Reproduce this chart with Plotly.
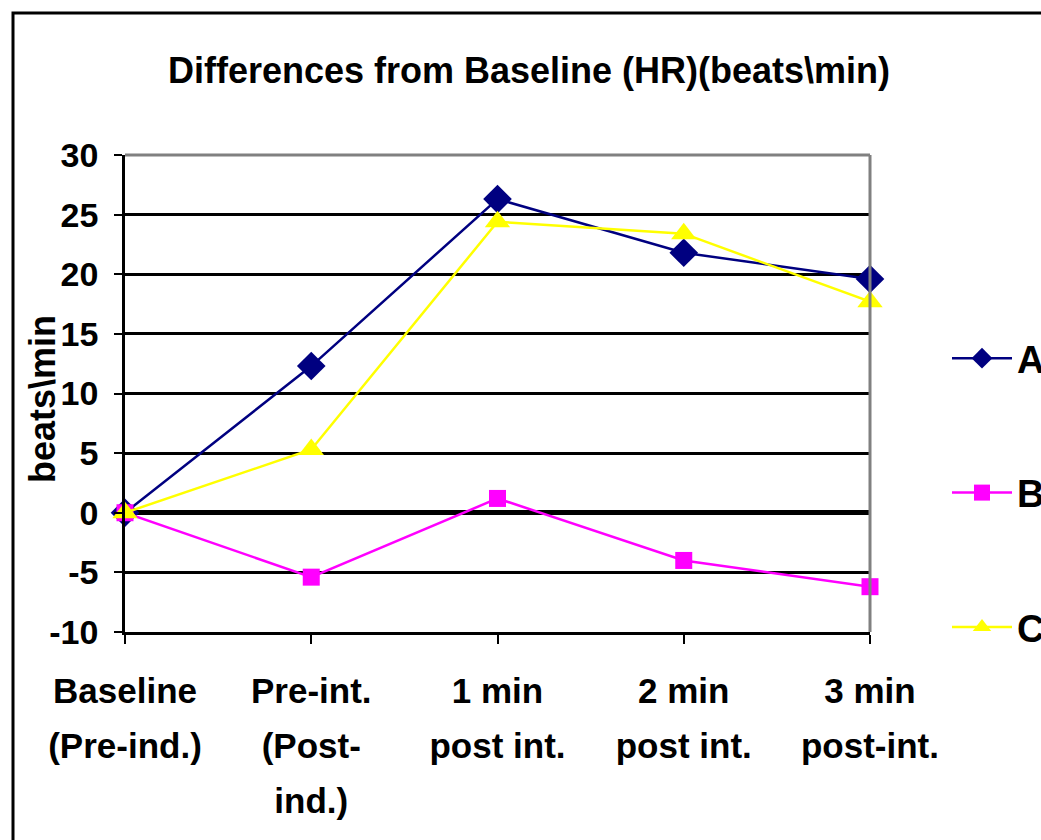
import plotly.graph_objects as go

categories = ["Baseline<br>(Pre-ind.)", "Pre-int.<br>(Post-<br>ind.)", "1 min<br>post int.",
              "2 min<br>post int.", "3 min<br>post-int."]
series_a = [0, 12.3, 26.3, 21.8, 19.6]
series_b = [0, -5.4, 1.2, -4.0, -6.2]
series_c = [0, 5.3, 24.4, 23.4, 17.7]
names = ["A", "B", "C"]
y_ticks = [-10, -5, 0, 5, 10, 15, 20, 25, 30]

FONT = "Liberation Sans, Arial, sans-serif"
W, H = 1041, 840
L, R, T, B = 125, 870, 155, 632

fig = go.Figure()
styles = [
    dict(color="#000080", symbol="diamond", size=22),
    dict(color="#FF00FF", symbol="square", size=17),
    dict(color="#FFFF00", symbol="triangle-up", size=22),
]
xs = list(range(len(categories)))
for i, (name, ys, st) in enumerate(zip(names, [series_a, series_b, series_c], styles)):
    fig.add_trace(go.Scatter(
        x=xs, y=ys, name="<b>%s</b>" % name, mode="lines+markers",
        line=dict(color=st["color"], width=2.5),
        marker=dict(color=st["color"], symbol=st["symbol"], size=st["size"], line=dict(width=0)),
        legendgroup=name, cliponaxis=False,
    ))


def px_x(px):
    return (px - L) / (R - L)


def px_y(py):
    return (B - py) / (B - T)


def xlabel(c):
    return "<br>".join('<span style="font-size:35px"><b>%s</b></span>' % part
                       for part in c.split("<br>"))


fig.update_layout(
    width=W, height=H,
    margin=dict(l=L, r=W - R, t=T, b=H - B, autoexpand=False),
    paper_bgcolor="white", plot_bgcolor="white",
    font=dict(family=FONT, size=33, color="black"),
    title=dict(text="<b>Differences from Baseline (HR)(beats\\min)</b>",
               x=529 / W, xanchor="center", xref="container",
               y=1 - 70 / H, yanchor="middle", yref="container",
               font=dict(size=36, family=FONT)),
    showlegend=True,
    legend=dict(x=px_x(947), xanchor="left", y=px_y(327), yanchor="top",
                font=dict(size=38, family=FONT), tracegroupgap=82,
                bgcolor="rgba(0,0,0,0)", itemwidth=60),
    xaxis=dict(
        tickmode="array", tickvals=xs,
        ticktext=[xlabel(c) for c in categories],
        range=[0, len(categories) - 1],
        showgrid=False, zeroline=False,
        showline=True, linecolor="black", linewidth=3,
        ticks="outside", ticklen=9, tickwidth=2, tickcolor="black",
        tickfont=dict(size=42, family=FONT),
        ticklabelstandoff=9,
    ),
    yaxis=dict(
        range=[-10, 30], tickmode="array", tickvals=y_ticks,
        ticktext=["<b>%d</b>" % v for v in y_ticks],
        showgrid=True, gridcolor="black", gridwidth=2.5,
        zeroline=True, zerolinecolor="black", zerolinewidth=5,
        showline=True, linecolor="black", linewidth=2.5,
        ticks="outside", ticklen=8, tickwidth=2, tickcolor="black",
        tickfont=dict(size=34, family=FONT),
        ticklabelstandoff=9,
    ),
    annotations=[dict(
        text="<b>beats\\min</b>", textangle=-90, showarrow=False,
        xref="paper", yref="paper", x=px_x(42), y=px_y(399),
        xanchor="center", yanchor="middle", font=dict(size=36, family=FONT),
    )],
    shapes=[
        dict(type="line", xref="paper", yref="paper", x0=0, x1=1, y0=1, y1=1,
             line=dict(color="#808080", width=3)),
        dict(type="line", xref="paper", yref="paper", x0=1, x1=1, y0=0, y1=1,
             line=dict(color="#808080", width=3)),
        dict(type="rect", xref="paper", yref="paper",
             x0=px_x(13), x1=px_x(1100), y0=px_y(13), y1=px_y(900),
             line=dict(color="black", width=3), fillcolor="rgba(0,0,0,0)", layer="below"),
    ],
)

fig.write_html("out.html")
